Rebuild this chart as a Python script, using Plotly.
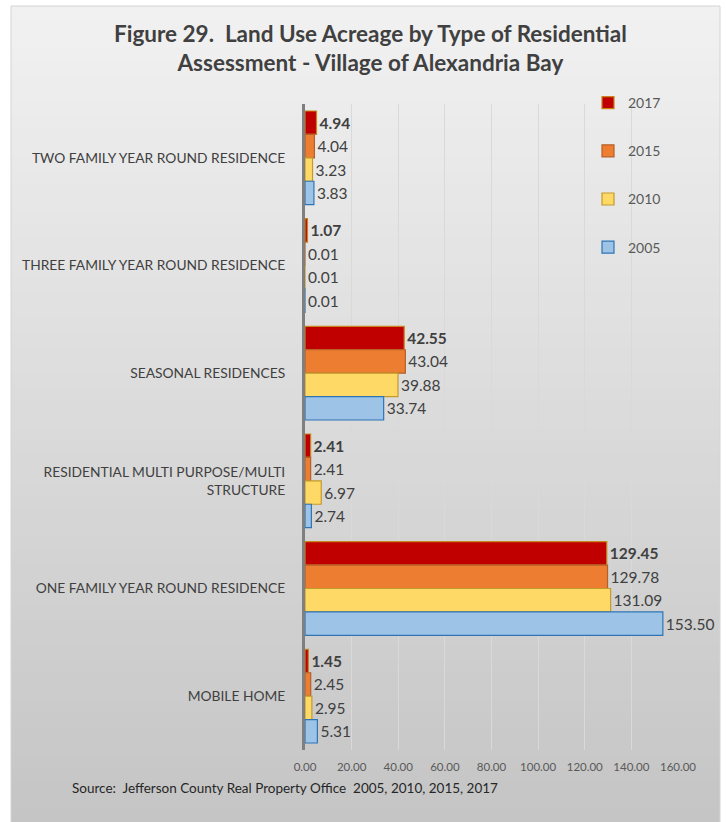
import plotly.graph_objects as go

# Residential assessment categories, top to bottom
categories = [
    "TWO FAMILY YEAR ROUND RESIDENCE",
    "THREE FAMILY YEAR ROUND RESIDENCE",
    "SEASONAL RESIDENCES",
    "RESIDENTIAL MULTI PURPOSE/MULTI<br>STRUCTURE",
    "ONE FAMILY YEAR ROUND RESIDENCE",
    "MOBILE HOME",
]

# Acreage per assessment year
acres_2017 = [4.94, 1.07, 42.55, 2.41, 129.45, 1.45]
acres_2015 = [4.04, 0.01, 43.04, 2.41, 129.78, 2.45]
acres_2010 = [3.23, 0.01, 39.88, 6.97, 131.09, 2.95]
acres_2005 = [3.83, 0.01, 33.74, 2.74, 153.50, 5.31]

x_ticks = [0, 20, 40, 60, 80, 100, 120, 140, 160]

W, H = 727, 822
ML, MR, MT, MB = 305, 49, 104, 72


def px_x(p):
    return (p - ML) / (W - ML - MR)


def px_y(p):
    return (H - MB - p) / (H - MT - MB)


series = [
    ("2017", acres_2017, "#c00000", "#c7841c", True),
    ("2015", acres_2015, "#ed7d31", "#b5602a", False),
    ("2010", acres_2010, "#ffd966", "#c59a2c", False),
    ("2005", acres_2005, "#9dc3e6", "#2e75b6", False),
]

FONT = "Lato, Open Sans, sans-serif"

fig = go.Figure()
for name, vals, fill, edge, bold in series:
    tmpl = "<b>%{x:.2f}</b>" if bold else "%{x:.2f}"
    fig.add_trace(go.Bar(
        name=name,
        y=categories,
        x=vals,
        orientation="h",
        legendgroup=name,
        marker=dict(color=fill, line=dict(color=edge, width=1.2)),
        text=vals,
        texttemplate=tmpl,
        textposition="outside",
        textfont=dict(family=FONT, size=15.5, color="#404040"),
        cliponaxis=False,
        hoverinfo="skip",
    ))

# Panel background: vertical light-to-grey gradient built from thin bands
shapes = []
n_bands = 60
top_c = (241, 241, 241)
bot_c = (197, 197, 197)
y0p, y1p = 6, H
for i in range(n_bands):
    t = i / (n_bands - 1)
    c = tuple(round(top_c[k] + (bot_c[k] - top_c[k]) * t) for k in range(3))
    ya = y0p + (y1p - y0p) * i / n_bands
    yb = y0p + (y1p - y0p) * (i + 1) / n_bands + 1
    shapes.append(dict(
        type="rect", xref="paper", yref="paper", layer="below",
        x0=px_x(11), x1=px_x(720), y0=px_y(yb), y1=px_y(ya),
        fillcolor="rgb(%d,%d,%d)" % c, line=dict(width=0),
    ))
shapes.append(dict(
    type="rect", xref="paper", yref="paper", layer="below",
    x0=px_x(11), x1=px_x(720), y0=px_y(H + 2), y1=px_y(6),
    fillcolor="rgba(0,0,0,0)", line=dict(color="#d4d4d4", width=1),
))

fig.update_layout(
    width=W, height=H,
    margin=dict(l=ML, r=MR, t=MT, b=MB),
    paper_bgcolor="white",
    plot_bgcolor="rgba(0,0,0,0)",
    barmode="group",
    bargap=0.13,
    bargroupgap=0.0,
    shapes=shapes,
    font=dict(family=FONT, color="#404040"),
    legend=dict(
        x=px_x(588), y=px_y(87), xanchor="left", yanchor="top",
        bgcolor="rgba(0,0,0,0)",
        traceorder="grouped",
        tracegroupgap=27,
        font=dict(family=FONT, size=14, color="#595959"),
    ),
    xaxis=dict(
        range=[0, 160],
        tickvals=x_ticks,
        ticktext=["%.2f" % v for v in x_ticks],
        tickfont=dict(family=FONT, size=11.5, color="#595959"),
        showgrid=True, gridcolor="#d9d9d9", gridwidth=1,
        zeroline=False, showline=False,
        ticks="", ticklabelstandoff=8, fixedrange=True,
    ),
    yaxis=dict(
        categoryorder="array", categoryarray=categories,
        autorange="reversed",
        tickfont=dict(family=FONT, size=13.8, color="#404040"),
        showline=True, linecolor="#7f7f7f", linewidth=3,
        ticks="", ticklabelstandoff=14,
        showgrid=False, fixedrange=True,
    ),
    annotations=[
        dict(
            text="<b>Figure 29.  Land Use Acreage by Type of Residential<br>Assessment - Village of Alexandria Bay</b>",
            xref="paper", yref="paper", x=px_x(370), y=px_y(48),
            xanchor="center", yanchor="middle", showarrow=False,
            font=dict(family=FONT, size=22.5, color="#404040"),
        ),
        dict(
            text="Source:  Jefferson County Real Property Office  2005, 2010, 2015, 2017",
            xref="paper", yref="paper", x=px_x(70), y=px_y(788),
            xanchor="left", yanchor="middle", showarrow=False,
            font=dict(family=FONT, size=13.5, color="#262626"),
        ),
    ],
)

fig.write_html("out.html")
